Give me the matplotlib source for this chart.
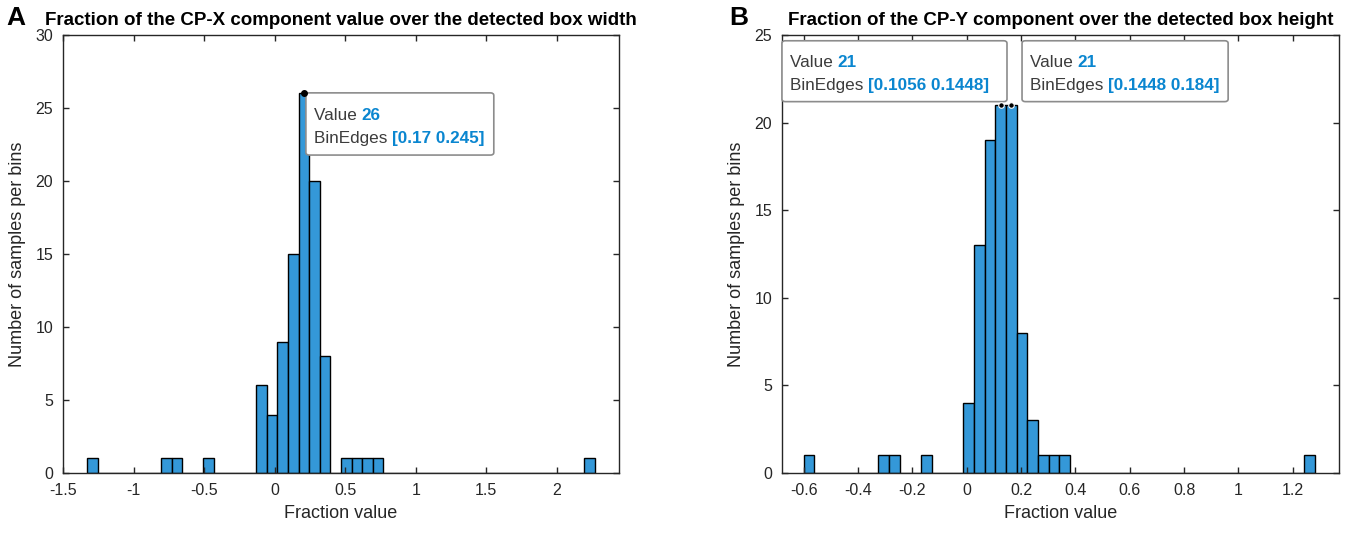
import numpy as np
import matplotlib
matplotlib.use("Agg")
import matplotlib.pyplot as plt
from matplotlib.patches import FancyBboxPatch

plt.rcParams['font.family'] = ['Liberation Sans', 'DejaVu Sans']

# --- panel A: CP-X fraction histogram ---
a_first_edge = -1.33
a_bin_width = 0.075
a_counts = [1, 0, 0, 0, 0, 0, 0, 1, 1, 0, 0, 1, 0, 0, 0, 0,
            6, 4, 9, 15, 26, 20, 8, 0, 1, 1, 1, 1,
            0, 0, 0, 0, 0, 0, 0, 0, 0, 0, 0, 0, 0, 0, 0, 0, 0, 0, 0, 1]
a_xticks = [-1.5, -1, -0.5, 0, 0.5, 1, 1.5, 2]
a_xticklabels = ['-1.5', '-1', '-0.5', '0', '0.5', '1', '1.5', '2']
a_yticks = [0, 5, 10, 15, 20, 25, 30]
a_tip_value = 26
a_tip_edges = '[0.17 0.245]'

# --- panel B: CP-Y fraction histogram ---
b_first_edge = -0.6
b_bin_width = 0.0392
b_counts = [1, 0, 0, 0, 0, 0, 0, 1, 1, 0, 0, 1, 0, 0, 0,
            4, 13, 19, 21, 21, 8, 3, 1, 1, 1,
            0, 0, 0, 0, 0, 0, 0, 0, 0, 0, 0, 0, 0, 0, 0, 0, 0, 0, 0, 0, 0, 0, 1]
b_xticks = [-0.6, -0.4, -0.2, 0, 0.2, 0.4, 0.6, 0.8, 1, 1.2]
b_xticklabels = ['-0.6', '-0.4', '-0.2', '0', '0.2', '0.4', '0.6', '0.8', '1', '1.2']
b_yticks = [0, 5, 10, 15, 20, 25]
b_tip_values = [21, 21]
b_tip_edges = ['[0.1056 0.1448]', '[0.1448 0.184]']

bar_color = '#3498d8'
axis_color = '#262626'
tip_blue = '#0a86d0'

fig = plt.figure(figsize=(13.51, 5.42), dpi=100)
axA = fig.add_axes([0.0466, 0.1273, 0.4115, 0.808])
axB = fig.add_axes([0.5788, 0.1273, 0.4123, 0.808])


def draw_hist(ax, first_edge, width, counts):
    edges = first_edge + width * np.arange(len(counts) + 1)
    ax.hist(edges[:-1] + width / 2, bins=edges, weights=counts,
            color=bar_color, edgecolor='black', linewidth=1.0)
    return edges


def style_axes(ax, xticks, xlabels, yticks, xlim, ylim, title):
    ax.set_xlim(*xlim)
    ax.set_ylim(*ylim)
    ax.set_xticks(xticks)
    ax.set_xticklabels(xlabels)
    ax.set_yticks(yticks)
    ax.tick_params(direction='in', length=4, width=1, top=True, right=True,
                   labelsize=11.5, colors=axis_color, pad=7)
    for s in ax.spines.values():
        s.set_color(axis_color)
        s.set_linewidth(1.0)
    ax.set_title(title, fontsize=13.5, fontweight='bold', pad=7)
    ax.set_xlabel('Fraction value', fontsize=13, color=axis_color, labelpad=5)
    ax.set_ylabel('Number of samples per bins', fontsize=13, color=axis_color, labelpad=7)


def datatip(ax, x0, x1, y0, y1, value, edges_txt):
    box = FancyBboxPatch((x0, y0), x1 - x0, y1 - y0, transform=ax.transAxes,
                         boxstyle='round,pad=0,rounding_size=0.006',
                         facecolor='white', edgecolor='#8c8c8c', linewidth=1.2,
                         zorder=5, clip_on=False)
    ax.add_patch(box)
    tx = x0 + 0.014
    h = y1 - y0
    t1 = ax.text(tx, y1 - h * 0.36, 'Value ', transform=ax.transAxes,
                 fontsize=12.3, color='#3c3c3c', va='center', zorder=6)
    ax.annotate(str(value), xy=(1, 0.5), xycoords=t1, va='center', ha='left',
                fontsize=12.3, color=tip_blue, fontweight='bold', zorder=6)
    t2 = ax.text(tx, y1 - h * 0.73, 'BinEdges ', transform=ax.transAxes,
                 fontsize=12.3, color='#3c3c3c', va='center', zorder=6)
    ax.annotate(edges_txt, xy=(1, 0.5), xycoords=t2, va='center', ha='left',
                fontsize=12.3, color=tip_blue, fontweight='bold', zorder=6)


edgesA = draw_hist(axA, a_first_edge, a_bin_width, a_counts)
style_axes(axA, a_xticks, a_xticklabels, a_yticks, (-1.5, 2.44), (0, 30),
           'Fraction of the CP-X component value over the detected box width')
iA = int(np.argmax(a_counts))
axA.plot(edgesA[iA] + a_bin_width / 2, a_counts[iA], 'o', color='black',
         markersize=4, zorder=7, clip_on=False)
datatip(axA, 0.437, 0.775, 0.726, 0.868, a_tip_value, a_tip_edges)

edgesB = draw_hist(axB, b_first_edge, b_bin_width, b_counts)
style_axes(axB, b_xticks, b_xticklabels, b_yticks, (-0.68, 1.37), (0, 25),
           'Fraction of the CP-Y component over the detected box height')
peaksB = [i for i, c in enumerate(b_counts) if c == max(b_counts)]
for i in peaksB:
    axB.plot(edgesB[i] + b_bin_width / 2, b_counts[i], 'o', color='black',
             markersize=4, markeredgecolor='white', markeredgewidth=0.8, zorder=7)
datatip(axB, 0.0, 0.404, 0.848, 0.987, b_tip_values[0], b_tip_edges[0])
datatip(axB, 0.431, 0.801, 0.848, 0.987, b_tip_values[1], b_tip_edges[1])

fig.text(0.005, 0.967, 'A', fontsize=19, fontweight='bold', va='center', ha='left')
fig.text(0.540, 0.967, 'B', fontsize=19, fontweight='bold', va='center', ha='left')

fig.savefig('out.png', dpi=100, facecolor='white')
